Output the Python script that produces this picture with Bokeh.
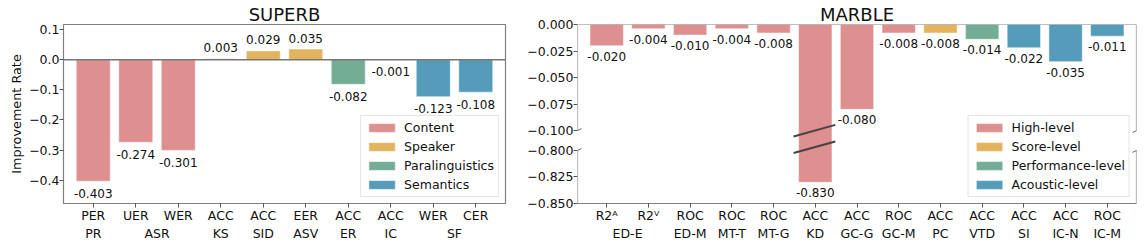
from bokeh.plotting import figure
from bokeh.models import (ColumnDataSource, FactorRange, Range1d, FixedTicker,
                          CustomJSTickFormatter, Span, Label, Arrow, Legend, LegendItem)
from bokeh.layouts import row
from bokeh.embed import file_html
from bokeh.resources import INLINE
from bokeh.core.properties import value

FONT = "DejaVu Sans"

# ---------------- data ----------------
superb_tasks = ["PR", "ASR", "ASR", "KS", "SID", "ASV", "ER", "IC", "SF", "SF"]
superb_metrics = ["PER", "UER", "WER", "ACC", "ACC", "EER", "ACC", "ACC", "WER", "CER"]
superb_values = [-0.403, -0.274, -0.301, 0.003, 0.029, 0.035, -0.082, -0.001, -0.123, -0.108]
superb_groups = ["Content", "Content", "Content", "Content", "Speaker", "Speaker",
                 "Paralinguistics", "Semantics", "Semantics", "Semantics"]
superb_group_order = ["Content", "Speaker", "Paralinguistics", "Semantics"]
superb_yticks = [0.1, 0.0, -0.1, -0.2, -0.3, -0.4]

marble_tasks = ["ED-E", "ED-E", "ED-M", "MT-T", "MT-G", "KD", "GC-G", "GC-M",
                "PC", "VTD", "SI", "IC-N", "IC-M"]
marble_metrics = ["R2\u1d2c", "R2\u2c7d", "ROC", "ROC", "ROC", "ACC", "ACC", "ROC",
                  "ACC", "ACC", "ACC", "ACC", "ROC"]
marble_values = [-0.020, -0.004, -0.010, -0.004, -0.008, -0.830, -0.080, -0.008,
                 -0.008, -0.014, -0.022, -0.035, -0.011]
marble_groups = ["High-level"] * 8 + ["Score-level", "Performance-level",
                                      "Acoustic-level", "Acoustic-level", "Acoustic-level"]
marble_group_order = ["High-level", "Score-level", "Performance-level", "Acoustic-level"]
marble_upper_ticks = [0.0, -0.025, -0.050, -0.075, -0.100]
marble_lower_ticks = [-0.800, -0.825, -0.850]

palette = ["#de8f8f", "#e4b35f", "#73ad95", "#549cba"]

# ---------------- layout constants ----------------
H = 243
TOP, BOTTOM = 24, 39
L_W, L_LEFT, L_RIGHT = 520, 63, 15
R_W, R_LEFT, R_RIGHT = 624, 57, 8
PAD = 0.2
FRAME_H = H - TOP - BOTTOM
TXT = "#111111"
SPINE = "#808080"
TICK = "#555555"
FS = "12.5px"

UPPER = (-0.100, 0.0)
LOWER = (-0.850, -0.800)
GAP = 0.01875


def disp(v):
    if v >= UPPER[0]:
        return v
    return UPPER[0] - GAP - (LOWER[1] - v)


def style_axes(p):
    for ax in p.xaxis + p.yaxis:
        ax.major_label_text_font = FONT
        ax.major_label_text_font_size = FS
        ax.major_label_text_color = TXT
        ax.axis_line_color = None
        ax.major_tick_line_color = TICK
        ax.major_tick_line_width = 1
        ax.major_tick_out = 4
        ax.major_tick_in = 0
        ax.minor_tick_line_color = None
        ax.major_label_standoff = 0
    for ax in p.xaxis:
        ax.group_text_font = FONT
        ax.group_text_font_size = FS
        ax.group_text_font_style = "normal"
        ax.group_text_color = TXT
        ax.separator_line_color = None
    p.xgrid.visible = False
    p.ygrid.visible = False


def style_title(p, text):
    p.title.text = text
    p.title.align = "center"
    p.title.text_font = FONT
    p.title.text_font_size = "18px"
    p.title.text_font_style = "normal"
    p.title.text_color = TXT
    p.title.standoff = 0
    p.title.offset = 0


def make_legend(p, renderer, groups, order):
    items = [LegendItem(label=g, renderers=[renderer], index=groups.index(g)) for g in order]
    leg = Legend(items=items, location="bottom_right", margin=6, padding=4, spacing=4,
                 label_height=15, glyph_height=11, glyph_width=33, label_standoff=6,
                 label_text_font=FONT, label_text_font_size=FS, label_text_color=TXT,
                 border_line_color="#cccccc", border_line_width=1,
                 background_fill_color="white", background_fill_alpha=0.8)
    p.add_layout(leg)


# ---------------- SUPERB ----------------
cmap1 = dict(zip(superb_group_order, palette))
x1 = list(zip(superb_tasks, superb_metrics))
src1 = ColumnDataSource(dict(
    x=x1, v=superb_values, group=superb_groups,
    color=[cmap1[g] for g in superb_groups],
    label=[f"{v:.3f}" for v in superb_values],
    off=[12 if v < 0 else -11 for v in superb_values],
))
xr1 = FactorRange(factors=x1, factor_padding=0, group_padding=0,
                  range_padding=PAD, range_padding_units="absolute")
p1 = figure(x_range=xr1, y_range=Range1d(-0.477, 0.1165), width=L_W, height=H,
            title="SUPERB", toolbar_location=None, output_backend="svg",
            min_border_left=L_LEFT, min_border_right=L_RIGHT,
            min_border_top=TOP, min_border_bottom=BOTTOM)
style_title(p1, "SUPERB")
p1.background_fill_color = "white"
p1.border_fill_color = "white"
p1.outline_line_color = SPINE
p1.outline_line_width = 1.2

p1.add_layout(Span(location=0, dimension="width", line_color="#777777", line_width=1.5))
r1 = p1.vbar(x="x", top="v", bottom=0, width=0.8, fill_color="color",
             line_color="white", line_alpha=0.5, line_width=1, source=src1)
p1.text(x="x", y="v", text="label", y_offset="off", source=src1,
        text_align="center", text_baseline="middle", text_font=value(FONT),
        text_font_size="12px", text_color=TXT)
p1.yaxis.ticker = FixedTicker(ticks=superb_yticks)
p1.yaxis.formatter = CustomJSTickFormatter(code='return tick.toFixed(1).replace("-", "\u2212");')
style_axes(p1)
p1.yaxis.axis_label = "Improvement Rate"
p1.yaxis.axis_label_text_font = FONT
p1.yaxis.axis_label_text_font_size = "12.8px"
p1.yaxis.axis_label_text_font_style = "normal"
p1.yaxis.axis_label_text_color = TXT
p1.yaxis.axis_label_standoff = 2
make_legend(p1, r1, superb_groups, superb_group_order)

for txt, yy in (("Metric", -9.0), ("Task", -26.5)):
    p1.add_layout(Label(x=-L_LEFT + 5, y=yy, x_units="screen", y_units="screen",
                        text=txt, text_align="left", text_baseline="middle",
                        text_font=FONT, text_font_size=FS, text_color=TXT))

# ---------------- MARBLE ----------------
cmap2 = dict(zip(marble_group_order, palette))
x2 = list(zip(marble_tasks, marble_metrics))
src2 = ColumnDataSource(dict(
    x=x2, v=marble_values, d=[disp(v) for v in marble_values], group=marble_groups,
    color=[cmap2[g] for g in marble_groups],
    label=[f"{v:.3f}" for v in marble_values],
))
xr2 = FactorRange(factors=x2, factor_padding=0, group_padding=0,
                  range_padding=PAD, range_padding_units="absolute")
p2 = figure(x_range=xr2, y_range=Range1d(disp(LOWER[0]), UPPER[1]), width=R_W, height=H,
            title="MARBLE", toolbar_location=None, output_backend="svg",
            min_border_left=R_LEFT, min_border_right=R_RIGHT,
            min_border_top=TOP, min_border_bottom=BOTTOM)
style_title(p2, "MARBLE")
p2.background_fill_color = "white"
p2.border_fill_color = "white"
p2.outline_line_color = None

r2 = p2.vbar(x="x", top=0, bottom="d", width=0.8, fill_color="color",
             line_color="white", line_alpha=0.5, line_width=1, source=src2)
p2.text(x="x", y="d", text="label", y_offset=10.5, source=src2,
        text_align="center", text_baseline="middle", text_font=value(FONT),
        text_font_size="12px", text_color=TXT)
p2.yaxis.ticker = FixedTicker(ticks=[disp(t) for t in marble_upper_ticks + marble_lower_ticks])
p2.yaxis.formatter = CustomJSTickFormatter(
    args=dict(lim=UPPER[0] - GAP / 2, off=disp(LOWER[1]) - LOWER[1]),
    code='const v = tick < lim ? tick - off : tick; return v.toFixed(3).replace("-", "\u2212");')
style_axes(p2)
p2.xaxis.axis_line_color = SPINE
p2.xaxis.axis_line_width = 1.2
make_legend(p2, r2, marble_groups, marble_group_order)

# spines and break marks
fw2 = R_W - R_LEFT - R_RIGHT
ux = (len(x2) + 2 * PAD) / fw2
uy = (UPPER[1] - disp(LOWER[0])) / FRAME_H
xa, xb = -PAD, len(x2) + PAD
lo_top = disp(LOWER[1])
lo_bot = disp(LOWER[0])


def seg(x0, y0, x1_, y1_, color=SPINE, width=1.2):
    p2.add_layout(Arrow(start=None, end=None, x_start=x0, y_start=y0, x_end=x1_, y_end=y1_,
                        line_color=color, line_width=width))


seg(xa, UPPER[1], xb, UPPER[1])
for xx in (xa, xb):
    seg(xx, UPPER[1], xx, UPPER[0])
    seg(xx, lo_top, xx, lo_bot)
    for yy in (UPPER[0], lo_top):
        seg(xx - 4 * ux, yy - 2 * uy, xx + 4 * ux, yy + 2 * uy, color="#666666", width=1)

kd = marble_tasks.index("KD") + 0.5
seg(kd - 21.7 * ux, UPPER[0] - 6 * uy, kd + 20 * ux, UPPER[0] + 5.7 * uy, color="#444444", width=2)
seg(kd - 21.7 * ux, lo_top - 2.6 * uy, kd + 20 * ux, lo_top + 9 * uy, color="#444444", width=2)

layout = row(p1, p2)
open("out.html", "w").write(file_html(layout, INLINE))
